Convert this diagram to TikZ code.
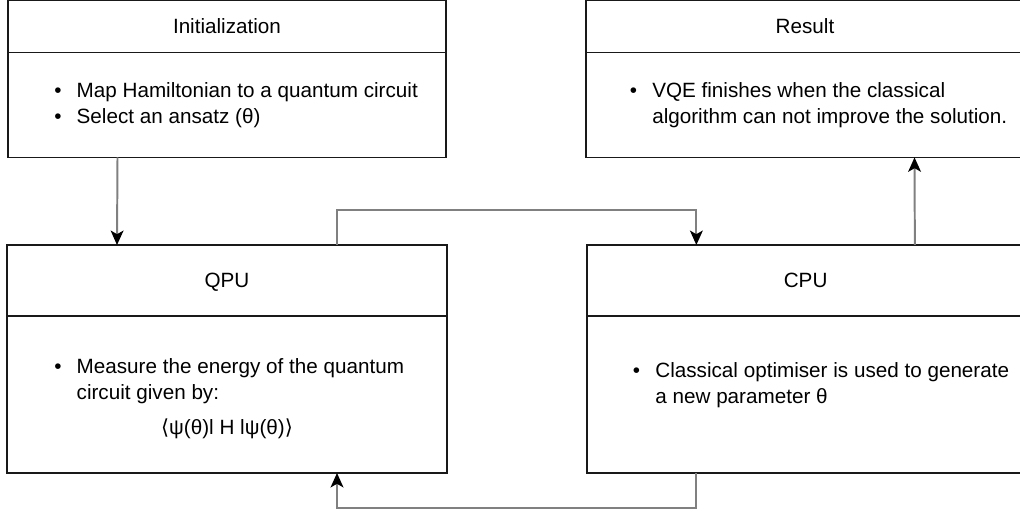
\documentclass[tikz,border=0pt]{standalone}
\usepackage{fontspec}
\setmainfont{Liberation Sans}
\newfontfamily\symfont{DejaVu Sans}
\usetikzlibrary{positioning,calc,arrows.meta}
\newcommand{\boxfont}{\fontsize{14.7pt}{18.5pt}\selectfont}

\begin{document}
\begin{tikzpicture}[font=\boxfont,
  box/.style={draw=black!90, line width=1.1pt, inner sep=0pt, outer sep=0pt, text depth=0pt},
  list/.style={anchor=west, inner sep=0pt},
  flow/.style={draw=black!50, line width=1.4pt, -{Stealth[length=0.36cm, width=0.32cm, inset=0.09cm, color=black]}}]
\useasboundingbox (0,0) rectangle (25.5,12.85);
\fill[white] (0,0) rectangle (25.5,12.85);

\node[box, minimum width=10.95cm, minimum height=1.3cm] (init) at (5.675,12.19) {Initialization};
\node[box, minimum width=10.95cm, minimum height=2.625cm, below=0pt of init] (initbody) {};
\node[list] (inittext) at ([xshift=1.15cm]initbody.west) {\begin{tabular}{@{}p{0.56cm}@{}l@{}}
\textbullet & Map Hamiltonian to a quantum circuit\\
\textbullet & Select an ansatz (θ)
\end{tabular}};

\node[box, minimum width=10.95cm, minimum height=1.3cm] (result) at (20.125,12.19) {Result};
\node[box, minimum width=10.95cm, minimum height=2.625cm, below=0pt of result] (resultbody) {};
\node[list] (resulttext) at ([xshift=1.09cm]resultbody.west) {\begin{tabular}{@{}p{0.56cm}@{}l@{}}
\textbullet & VQE finishes when the classical\\
 & algorithm can not improve the solution.
\end{tabular}};

\node[box, minimum width=11cm, minimum height=1.775cm] (qpu) at (5.675,5.8375) {QPU};
\node[box, minimum width=11cm, minimum height=3.925cm, below=0pt of qpu] (qpubody) {};
\node[list] (qputext) at ([xshift=1.175cm, yshift=0.325cm]qpubody.west) {\begin{tabular}{@{}p{0.56cm}@{}l@{}}
\textbullet & Measure the energy of the quantum\\
 & circuit given by:
\end{tabular}};
\node[inner sep=0pt] (braket) at ([yshift=-0.8625cm]qpubody.center) {{\symfont ⟨}ψ(θ)l H lψ(θ){\symfont ⟩}};

\node[box, minimum width=10.925cm, minimum height=1.775cm] (cpu) at (20.14,5.8375) {CPU};
\node[box, minimum width=10.925cm, minimum height=3.925cm, below=0pt of cpu] (cpubody) {};
\node[list] (cputext) at ([xshift=1.14cm, yshift=0.225cm]cpubody.west) {\begin{tabular}{@{}p{0.56cm}@{}l@{}}
\textbullet & Classical optimiser is used to generate\\
 & a new parameter θ
\end{tabular}};

\draw[flow] ($(initbody.south west)!.25!(initbody.south east)$) -- ($(qpu.north west)!.25!(qpu.north east)$);
\draw[flow] ($(qpu.north west)!.75!(qpu.north east)$) -- ++(0,0.875) -| ($(cpu.north west)!.25!(cpu.north east)$);
\draw[flow] ($(cpu.north west)!.75!(cpu.north east)$) -- ($(resultbody.south west)!.75!(resultbody.south east)$);
\draw[flow] ($(cpubody.south west)!.25!(cpubody.south east)$) -- ++(0,-0.875) -| ($(qpubody.south west)!.75!(qpubody.south east)$);

\end{tikzpicture}
\end{document}
